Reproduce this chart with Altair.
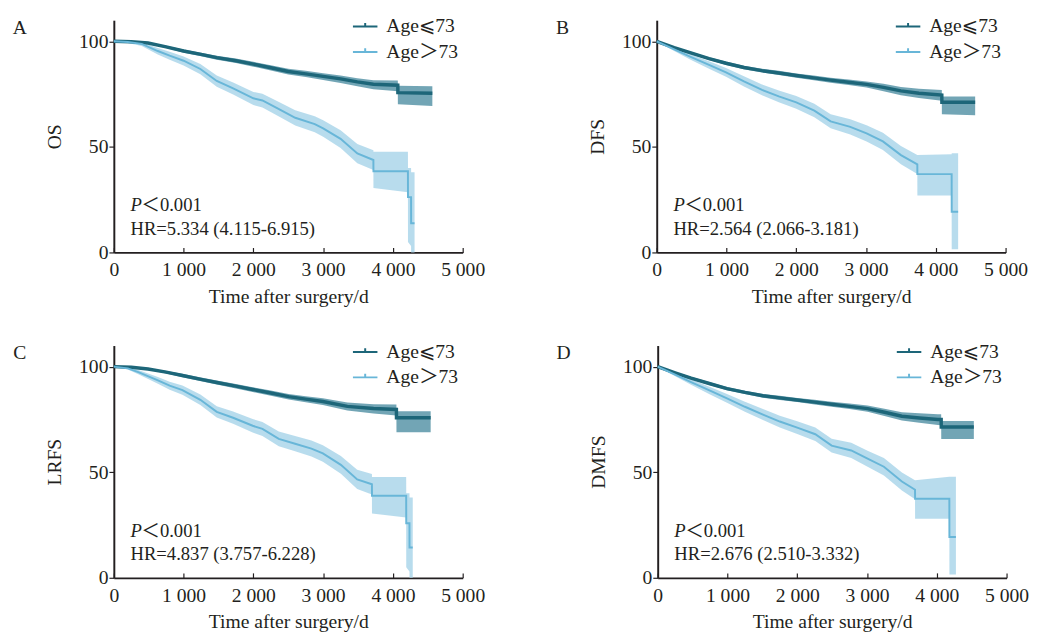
import altair as alt
import pandas as pd

# ---------------- data ----------------
GROUPS = ["Age⩽73", "Age＞73"]
TICKS_X = [0, 1000, 2000, 3000, 4000, 5000]
TICKS_Y = [0, 50, 100]

# A  OS
OS_dark_t = [0, 250, 490, 750, 1000, 1250, 1475, 1750, 2000, 2250, 2500, 2750, 3000, 3250, 3490, 3720, 4070, 4071, 4565]
OS_dark_s = [100, 99.8, 99.2, 97.4, 95.4, 93.8, 92.3, 90.8, 89.2, 87.5, 85.7, 84.6, 83.4, 82.2, 80.8, 79.7, 79.2, 75.7, 75.4]
OS_dark_lo = [100, 99.6, 98.8, 96.8, 94.6, 92.9, 91.3, 89.7, 88.0, 86.2, 84.3, 83.1, 81.7, 80.3, 78.7, 77.3, 76.4, 70.2, 69.4]
OS_dark_hi = [100, 100, 99.6, 97.9, 96.1, 94.6, 93.2, 91.8, 90.3, 88.7, 87.0, 86.0, 84.9, 83.8, 82.5, 81.6, 81.4, 78.9, 78.7]
OS_light_t = [0, 200, 400, 630, 800, 1000, 1240, 1475, 1710, 2000, 2130, 2360, 2600, 2880, 3000, 3250, 3490, 3720, 3721, 4215, 4216, 4260, 4261, 4310]
OS_light_s = [100, 99.7, 98.8, 95.4, 93.2, 90.8, 86.9, 81.2, 77.7, 73.0, 72.0, 68.0, 63.8, 60.8, 58.8, 53.8, 46.9, 43.8, 38.5, 38.5, 26.2, 26.2, 13.8, 13.8]
OS_light_lo = [100, 99.2, 97.8, 93.8, 91.3, 88.6, 84.4, 78.5, 74.8, 69.8, 68.7, 64.5, 60.1, 56.9, 54.8, 49.5, 42.3, 39.0, 30.5, 28.5, 5.0, 3.0, 0, 0]
OS_light_hi = [100, 100, 99.6, 96.8, 95.0, 92.8, 89.2, 83.8, 80.5, 76.0, 75.2, 71.4, 67.4, 64.5, 62.6, 57.9, 51.4, 48.4, 47.7, 47.7, 40.0, 40.0, 38.0, 38.0]

# B  DFS
DFS_dark_t = [0, 250, 478, 750, 993, 1250, 1509, 1750, 2000, 2250, 2493, 2750, 3008, 3250, 3500, 3758, 4086, 4087, 4564]
DFS_dark_s = [100, 97.0, 94.6, 91.8, 89.6, 87.6, 86.1, 85.0, 83.8, 82.7, 81.6, 80.6, 79.6, 78.2, 76.5, 75.4, 74.5, 71.1, 71.1]
DFS_dark_lo = [100, 96.6, 94.0, 91.1, 88.8, 86.8, 85.2, 84.0, 82.8, 81.6, 80.4, 79.3, 78.1, 76.4, 74.5, 73.1, 71.8, 65.5, 65.0]
DFS_dark_hi = [100, 97.4, 95.2, 92.5, 90.4, 88.4, 87.0, 86.0, 84.8, 83.8, 82.8, 81.9, 81.0, 79.9, 78.4, 77.5, 76.9, 73.9, 73.9]
DFS_light_t = [0, 250, 478, 750, 993, 1250, 1509, 1750, 2000, 2259, 2493, 2774, 3008, 3242, 3500, 3735, 3736, 4227, 4228, 4320]
DFS_light_s = [100, 96.2, 92.7, 88.8, 85.3, 81.0, 77.0, 73.9, 71.1, 67.2, 62.1, 59.5, 56.4, 52.6, 46.1, 41.7, 37.1, 37.1, 19.3, 19.3]
DFS_light_lo = [100, 95.4, 91.4, 87.0, 83.2, 78.6, 74.4, 71.1, 68.1, 64.0, 58.8, 55.9, 52.6, 48.5, 41.8, 37.2, 27.0, 27.0, 1.5, 1.5]
DFS_light_hi = [100, 97.0, 94.0, 90.6, 87.4, 83.4, 79.6, 76.7, 74.1, 70.4, 65.4, 63.1, 60.2, 56.7, 50.4, 46.2, 46.2, 46.5, 47.0, 47.0]

# C  LRFS
LRFS_dark_t = [0, 250, 490, 750, 983, 1250, 1475, 1750, 1990, 2250, 2505, 2750, 2996, 3347, 3722, 4050, 4051, 4541]
LRFS_dark_s = [100, 99.7, 98.9, 97.4, 95.8, 94.0, 92.5, 90.8, 89.2, 87.5, 85.8, 84.6, 83.5, 81.2, 80.2, 79.7, 75.8, 75.8]
LRFS_dark_lo = [100, 99.5, 98.5, 96.8, 95.0, 93.1, 91.5, 89.7, 88.0, 86.2, 84.4, 83.1, 81.8, 79.2, 77.8, 76.9, 68.9, 68.9]
LRFS_dark_hi = [100, 99.9, 99.3, 98.0, 96.6, 94.9, 93.4, 91.8, 90.3, 88.7, 87.1, 86.0, 85.0, 83.0, 82.2, 82.1, 78.9, 78.9]
LRFS_light_t = [0, 200, 351, 632, 800, 983, 1240, 1475, 1709, 1990, 2130, 2364, 2598, 2832, 2996, 3254, 3488, 3699, 3700, 4190, 4191, 4237, 4238, 4284]
LRFS_light_s = [100, 99.2, 97.4, 93.5, 91.0, 88.9, 84.3, 78.6, 75.8, 72.0, 70.5, 65.8, 63.5, 61.2, 58.9, 53.5, 46.6, 44.3, 38.9, 38.9, 25.8, 25.8, 14.3, 14.3]
LRFS_light_lo = [100, 98.7, 96.4, 91.9, 89.1, 86.7, 81.8, 75.9, 72.9, 68.8, 67.2, 62.3, 59.9, 57.4, 55.0, 49.3, 42.0, 39.5, 30.5, 28.5, 5.0, 3.0, 0, 0]
LRFS_light_hi = [100, 99.7, 98.4, 95.1, 92.9, 91.1, 86.8, 81.3, 78.7, 75.2, 73.8, 69.3, 67.1, 65.0, 62.8, 57.7, 51.2, 49.1, 47.7, 47.7, 40.0, 40.0, 38.0, 38.0]

# D  DMFS
DMFS_dark_t = [0, 250, 478, 750, 993, 1250, 1509, 1750, 2000, 2250, 2493, 2750, 3008, 3250, 3500, 3750, 4016, 4063, 4064, 4531]
DMFS_dark_s = [100, 97.1, 94.6, 91.9, 89.6, 87.8, 86.2, 85.2, 84.2, 83.2, 82.2, 81.2, 80.1, 78.4, 76.5, 75.7, 75.0, 75.0, 71.4, 71.4]
DMFS_dark_lo = [100, 96.7, 94.0, 91.2, 88.8, 87.0, 85.3, 84.2, 83.2, 82.1, 81.0, 79.9, 78.6, 76.6, 74.5, 73.4, 72.4, 72.2, 65.7, 65.7]
DMFS_dark_hi = [100, 97.5, 95.2, 92.6, 90.4, 88.6, 87.1, 86.2, 85.2, 84.3, 83.4, 82.5, 81.6, 80.1, 78.4, 77.9, 77.5, 77.5, 74.2, 74.2]
DMFS_light_t = [0, 250, 478, 750, 993, 1250, 1509, 1750, 2000, 2259, 2493, 2774, 3008, 3242, 3500, 3688, 3689, 4180, 4181, 4274]
DMFS_light_s = [100, 96.2, 92.7, 88.6, 85.0, 81.0, 77.3, 74.0, 71.1, 68.0, 62.6, 60.3, 56.4, 52.6, 45.6, 41.7, 37.4, 37.4, 19.3, 19.3]
DMFS_light_lo = [100, 95.4, 91.4, 86.8, 82.9, 78.6, 74.7, 71.2, 68.1, 64.8, 59.3, 56.7, 52.6, 48.5, 41.3, 37.2, 28.0, 28.0, 1.5, 1.5]
DMFS_light_hi = [100, 97.0, 94.0, 90.4, 87.1, 83.4, 79.9, 76.8, 74.1, 71.2, 65.9, 63.9, 60.2, 56.7, 49.9, 46.2, 46.2, 47.9, 47.9, 47.9]

PANELS = [
    ("A", "OS", "HR=5.334 (4.115-6.915)",
     (OS_dark_t, OS_dark_s, OS_dark_lo, OS_dark_hi), (OS_light_t, OS_light_s, OS_light_lo, OS_light_hi)),
    ("B", "DFS", "HR=2.564 (2.066-3.181)",
     (DFS_dark_t, DFS_dark_s, DFS_dark_lo, DFS_dark_hi), (DFS_light_t, DFS_light_s, DFS_light_lo, DFS_light_hi)),
    ("C", "LRFS", "HR=4.837 (3.757-6.228)",
     (LRFS_dark_t, LRFS_dark_s, LRFS_dark_lo, LRFS_dark_hi), (LRFS_light_t, LRFS_light_s, LRFS_light_lo, LRFS_light_hi)),
    ("D", "DMFS", "HR=2.676 (2.510-3.332)",
     (DMFS_dark_t, DMFS_dark_s, DMFS_dark_lo, DMFS_dark_hi), (DMFS_light_t, DMFS_light_s, DMFS_light_lo, DMFS_light_hi)),
]

# ---------------- styling ----------------
DARK = "#1d6679"
LIGHT = "#68b6d8"
DARK_BAND = "#4f8fa2"
LIGHT_BAND = "#acd6ea"
FONT = "Liberation Serif, Noto Sans CJK SC, DejaVu Sans, serif"
TXT = "#231f20"
W, H = 356, 237


def frame(series, grp):
    t, s, lo, hi = series
    return pd.DataFrame({"t": t, "s": s, "lo": lo, "hi": hi, "grp": grp})


def panel(letter, ytitle, hr, dark, light):
    df = pd.concat([frame(dark, GROUPS[0]), frame(light, GROUPS[1])], ignore_index=True)
    xs = alt.Scale(domain=[0, 5000], nice=False)
    ys = alt.Scale(domain=[0, 110], nice=False)
    base = alt.Chart(df)

    x_main = alt.X("t:Q", scale=xs, title="Time after surgery/d",
                   axis=alt.Axis(values=TICKS_X, ticks=False, tickSize=0, labelPadding=24,
                                 labelBaseline="alphabetic", domainWidth=1.8, labelFlush=False,
                                 labelOverlap=False,
                                 labelExpr="datum.value == 0 ? '0' : replace(format(datum.value, ','), ',', ' ')",
                                 titleY=51, titleBaseline="alphabetic", orient="bottom"))
    x_ticks = alt.X("t:Q", scale=xs, title=None,
                    axis=alt.Axis(values=TICKS_X, orient="bottom", offset=-5, domain=False,
                                  labels=False, ticks=True, tickSize=5, tickWidth=1.2))
    x_none = alt.X("t:Q", scale=xs, axis=None)
    yaxis = alt.Axis(values=TICKS_Y, tickSize=5, labelPadding=1, domainWidth=2,
                     tickWidth=1.2, titleX=-60, titleY=H / 2, titleAngle=270,
                     titleAlign="center", titleBaseline="middle", labelFlush=False)

    def yenc(field):
        return alt.Y(field, type="quantitative", scale=ys, title=ytitle, axis=yaxis)

    band_dark = base.transform_filter(alt.datum.grp == GROUPS[0]).mark_area(
        color=DARK_BAND, opacity=0.8).encode(x=x_main, y=yenc("lo"), y2="hi:Q")
    band_light = base.transform_filter(alt.datum.grp == GROUPS[1]).mark_area(
        color=LIGHT_BAND, opacity=0.85).encode(x=x_ticks, y=yenc("lo"), y2="hi:Q")
    lines = base.mark_line().encode(
        x=x_none,
        y=yenc("s"),
        color=alt.Color("grp:N", scale=alt.Scale(domain=GROUPS, range=[DARK, LIGHT]),
                        legend=alt.Legend(title=None, orient="none", legendX=243, legendY=-7,
                                          symbolType="M-1,0L1,0M0,0L0,-0.3", symbolSize=625,
                                          symbolStrokeWidth=2, symbolFillColor="transparent",
                                          labelFont=FONT, labelFontSize=20, labelColor=TXT,
                                          labelOffset=8, padding=0, rowPadding=2)),
        strokeWidth=alt.condition(alt.datum.grp == GROUPS[0], alt.value(3.5), alt.value(2)),
    )

    one = alt.Chart(pd.DataFrame({"k": [0]}))
    txt = dict(font=FONT, color=TXT)
    t_letter = one.mark_text(text=letter, fontSize=20, align="center", baseline="middle", **txt).encode(
        x=alt.value(-96), y=alt.value(8))
    t_p = one.mark_text(text="P", fontSize=19, fontStyle="italic", align="left", baseline="middle", **txt).encode(
        x=alt.value(17), y=alt.value(189))
    t_pv = one.mark_text(text="＜0.001", fontSize=19, align="left", baseline="middle", **txt).encode(
        x=alt.value(28), y=alt.value(189))
    t_hr = one.mark_text(text=hr, fontSize=19, align="left", baseline="middle", **txt).encode(
        x=alt.value(17), y=alt.value(213))

    # light band drawn first so the dark band sits over it
    return alt.layer(band_light, band_dark, lines, t_letter, t_p, t_pv, t_hr).resolve_axis(
        x="independent").properties(width=W, height=H)


charts = [panel(*p) for p in PANELS]
row1 = alt.hconcat(charts[0], charts[1], spacing=72).resolve_scale(color="independent")
row2 = alt.hconcat(charts[2], charts[3], spacing=72).resolve_scale(color="independent")
chart = alt.vconcat(row1, row2, spacing=33).resolve_scale(color="independent").properties(
    padding={"left": 4, "top": -1, "right": 5, "bottom": 0}
).configure_view(strokeWidth=0).configure_axis(
    labelFont=FONT, titleFont=FONT, labelFontSize=20, titleFontSize=20,
    labelColor=TXT, titleColor=TXT, domainColor=TXT, tickColor=TXT, grid=False,
    titleFontWeight="normal"
)

chart.save("out.html", embed_options={"renderer": "svg", "actions": False})
